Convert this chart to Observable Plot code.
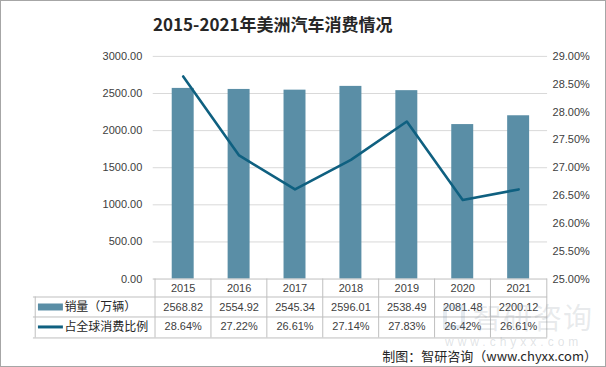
<!DOCTYPE html>
<html>
<head>
<meta charset="utf-8">
<script src="https://cdn.jsdelivr.net/npm/d3@7"></script>
<script src="https://cdn.jsdelivr.net/npm/@observablehq/plot@0.6"></script>
<style>
  html, body { margin: 0; padding: 0; background: #fff; }
  #wrap { position: relative; width: 606px; height: 367px; box-sizing: border-box; border: 1px solid #a6a6a6; overflow: hidden; background: #fff; }
  #chart { position: absolute; left: -1px; top: -1px; }
  #title { position: absolute; left: 152px; top: 12px; font-family: "Noto Sans CJK SC", sans-serif; font-weight: bold; font-size: 17px; color: #262626; white-space: nowrap; line-height: 22px; }
  #source { position: absolute; right: 8px; top: 346px; font-family: "Noto Sans CJK SC", sans-serif; font-size: 13px; color: #262626; white-space: nowrap; line-height: 18px; }
  #wm1 { position: absolute; left: 472px; top: 295px; font-family: "Noto Sans CJK SC", sans-serif; font-size: 29px; color: rgba(150,160,170,0.22); white-space: nowrap; letter-spacing: 1px; line-height: 40px; }
  #wm2 { position: absolute; left: 444px; top: 334px; font-family: "Liberation Sans", sans-serif; font-size: 12px; color: rgba(150,160,170,0.3); white-space: nowrap; letter-spacing: 4px; line-height: 14px; }
  #wmlogo { position: absolute; left: 442px; top: 304px; width: 22px; height: 24px; border: 4px solid rgba(120,150,180,0.2); box-sizing: border-box; }
</style>
</head>
<body>
<div id="wrap">
  <div id="chart"></div>
  <div id="title"></div>
  <div id="wmlogo"></div>
  <div id="wm1">智研咨询</div>
  <div id="wm2">www.chyxx.com</div>
  <div id="source"></div>
</div>
<script>
const titleText = "2015-2021年美洲汽车消费情况";
const sourceText = "制图：智研咨询（www.chyxx.com）";
const years = ["2015", "2016", "2017", "2018", "2019", "2020", "2021"];
const sales = [2568.82, 2554.92, 2545.34, 2596.01, 2538.49, 2081.48, 2200.12];
const share = [28.64, 27.22, 26.61, 27.14, 27.83, 26.42, 26.61];
const leftTicks = [0, 500, 1000, 1500, 2000, 2500, 3000];
const rightTicks = [25, 25.5, 26, 26.5, 27, 27.5, 28, 28.5, 29];
const salesLabel = "销量（万辆）";
const shareLabel = "占全球消费比例";

document.getElementById("title").textContent = titleText;
document.getElementById("source").textContent = sourceText;

const barColor = "#5a8ea6";
const lineColor = "#0f6080";
const txtColor = "#404040";
const gridColor = "#d9d9d9";
const tableColor = "#bfbfbf";

const yMax = 3000, pMin = 25, pMax = 29;
const toY = p => (p - pMin) / (pMax - pMin) * yMax;
const data = years.map((y, i) => ({year: y, sales: sales[i], share: share[i]}));

const W = 606, H = 367;
const mL = 153, mR = 58, mT = 56, mB = 88;
const step = (W - mL - mR) / years.length;
const half = step / 2;
const frameH = H - mT - mB;
const rowH = [18, 20, 21];
const rowBottom1 = rowH[0];
const rowBottom2 = rowH[0] + rowH[1];
const rowBottom3 = rowH[0] + rowH[1] + rowH[2];
const leftCol = mL - 33;

const numFont = "Liberation Sans, Arial, sans-serif";
const cjkFont = "Noto Sans CJK SC, sans-serif";

const plot = Plot.plot({
  width: W, height: H,
  marginLeft: mL, marginRight: mR, marginTop: mT, marginBottom: mB,
  style: {fontFamily: numFont, fontSize: "11px", color: txtColor, background: "transparent", overflow: "visible"},
  x: {type: "band", domain: years, padding: 0, axis: null},
  y: {domain: [0, yMax], axis: null},
  marks: [
    Plot.ruleY(leftTicks.filter(d => d > 0), {stroke: gridColor, strokeWidth: 1}),
    Plot.barY(data, {x: "year", y: "sales", fill: barColor, insetLeft: 17, insetRight: 17}),
    Plot.ruleY([0], {stroke: tableColor}),
    Plot.lineY(data, {x: "year", y: d => toY(d.share), stroke: lineColor, strokeWidth: 2.6, strokeLinejoin: "round"}),
    Plot.axisY({anchor: "left", label: null, ticks: leftTicks, tickSize: 0, tickPadding: 11, tickFormat: d => d.toFixed(2), fill: txtColor, fontSize: 11}),
    Plot.axisY({anchor: "right", label: null, ticks: rightTicks.map(toY), tickSize: 0, tickPadding: 5, tickFormat: d => (pMin + d / yMax * (pMax - pMin)).toFixed(2) + "%", fill: txtColor, fontSize: 11}),
    // table grid: vertical separators
    Plot.ruleX(years, {x: d => d, dx: -half, insetTop: frameH, insetBottom: -rowBottom3, stroke: tableColor}),
    Plot.ruleX([years[years.length - 1]], {x: d => d, dx: half, insetTop: frameH, insetBottom: -rowBottom3, stroke: tableColor}),
    Plot.ruleX([years[0]], {x: d => d, dx: -half - leftCol, insetTop: frameH + rowBottom1, insetBottom: -rowBottom3, stroke: tableColor}),
    // table grid: horizontal lines
    Plot.ruleY([0], {dy: rowBottom1, insetLeft: -leftCol, stroke: tableColor}),
    Plot.ruleY([0], {dy: rowBottom2, insetLeft: -leftCol, stroke: tableColor}),
    Plot.ruleY([0], {dy: rowBottom3, insetLeft: -leftCol, stroke: tableColor}),
    // table text
    Plot.text(data, {x: "year", frameAnchor: "bottom", dy: 9, text: "year", fill: txtColor, fontSize: 11, lineAnchor: "middle"}),
    Plot.text(data, {x: "year", frameAnchor: "bottom", dy: 28, text: d => d.sales.toFixed(2), fill: txtColor, fontSize: 11, lineAnchor: "middle"}),
    Plot.text(data, {x: "year", frameAnchor: "bottom", dy: 48, text: d => d.share.toFixed(2) + "%", fill: txtColor, fontSize: 11, lineAnchor: "middle"}),
    // legend swatches in table
    Plot.ruleY([0], {dy: 28, insetLeft: -(mL - 38), insetRight: (W - mR - 63), stroke: barColor, strokeWidth: 7}),
    Plot.ruleY([0], {dy: 48, insetLeft: -(mL - 38), insetRight: (W - mR - 63), stroke: lineColor, strokeWidth: 3}),
    Plot.text([salesLabel], {frameAnchor: "bottom-left", dx: -(mL - 64), dy: 28, text: d => d, textAnchor: "start", lineAnchor: "middle", fill: "#262626", fontSize: 12, fontFamily: cjkFont}),
    Plot.text([shareLabel], {frameAnchor: "bottom-left", dx: -(mL - 64), dy: 48, text: d => d, textAnchor: "start", lineAnchor: "middle", fill: "#262626", fontSize: 12, fontFamily: cjkFont})
  ]
});
document.getElementById("chart").appendChild(plot);
</script>
</body>
</html>
